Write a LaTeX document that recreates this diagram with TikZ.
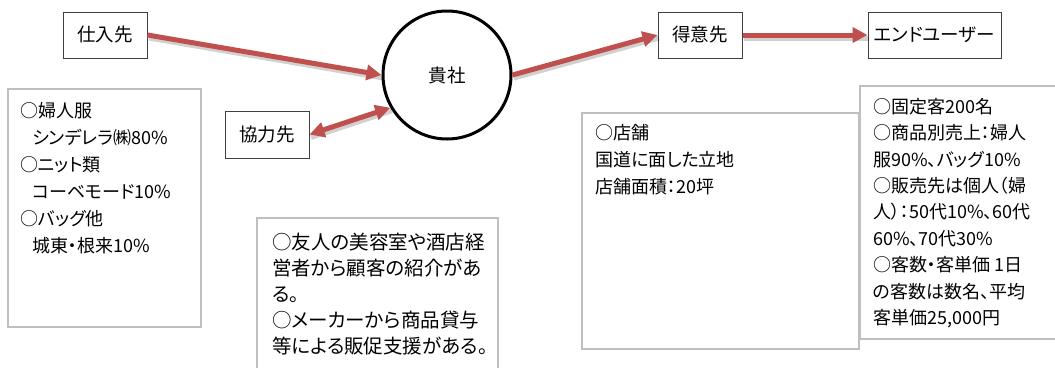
\documentclass[tikz,border=0pt]{standalone}
\usepackage{fontspec}
\newfontfamily\jp[RawFeature=+palt]{Noto Sans CJK JP}
\usetikzlibrary{arrows.meta}
\definecolor{arrowred}{HTML}{C0504D}
\definecolor{boxgray}{HTML}{BFBFBF}
\definecolor{labelline}{HTML}{404040}
\begin{document}
\begin{tikzpicture}[x=1pt,y=-1pt,
  labelbox/.style={draw=labelline, line width=1pt, fill=white, inner sep=0pt,
    font=\jp\fontsize{18.5pt}{22pt}\selectfont},
  infobox/.style={draw=boxgray, line width=1.2pt, fill=white, inner sep=0pt},
  infotext/.style={anchor=north west, inner sep=0pt, align=left,
    font=\jp\fontsize{18pt}{27pt}\selectfont},
  flow/.style={draw=arrowred, line width=5pt, -{Triangle[length=15pt,width=15pt]}},
  flowboth/.style={draw=arrowred, line width=5pt, {Triangle[length=15pt,width=15pt]}-{Triangle[length=15pt,width=15pt]}},
  shade/.style={draw=black, opacity=0.18, line width=5pt}
]
\useasboundingbox (0,0) rectangle (1055,367);
\clip (0,0) rectangle (1055,367);

% info boxes
\node[infobox, minimum width=193pt, minimum height=238pt] (leftbox) at (104.5,208) {};
\node[infobox, minimum width=241pt, minimum height=182pt] (midbox) at (377.5,309) {};
\node[infobox, minimum width=277pt, minimum height=236pt] (storebox) at (720.5,231) {};
\node[infobox, minimum width=240pt, minimum height=253pt] (userbox) at (980,212.5) {};

\node[infotext] (lefttext) at (20,102) {○婦人服\\\hspace{12pt}シンデレラ㈱80\%\\○ニット類\\\hspace{12pt}コーベモード10\%\\○バッグ他\\\hspace{12pt}城東・根来10\%};
\node[infotext, font=\jp\fontsize{19.5pt}{26pt}\selectfont] (midtext) at (272,233) {○友人の美容室や酒店経\\営者から顧客の紹介があ\\る。\\○メーカーから商品貸与\\等による販促支援がある。};
\node[infotext] (storetext) at (595,124) {○店舗\\国道に面した立地\\店舗面積：20坪};
\node[infotext, font=\jp\fontsize{18pt}{26.4pt}\selectfont] (usertext) at (873,98) {○固定客200名\\○商品別売上：婦人\\服90\%、バッグ10\%\\○販売先は個人（婦\\人）：50代10\%、60代\\60\%、70代30\%\\○客数・客単価 1日\\の客数は数名、平均\\客単価25,000円};

% label boxes
\node[labelbox, minimum width=84pt, minimum height=46pt] (shiire) at (105,35) {仕入先};
\node[labelbox, minimum width=84pt, minimum height=47pt] (kyoryoku) at (267,134.5) {協力先};
\node[labelbox, minimum width=84pt, minimum height=46pt] (tokui) at (700,35) {得意先};
\node[labelbox, minimum width=133pt, minimum height=46pt] (enduser) at (934.5,35) {エンドユーザー};
\node[circle, draw=black, line width=3pt, fill=white, minimum size=128pt, inner sep=0pt,
  font=\jp\fontsize{18.5pt}{22pt}\selectfont] (kisha) at (447,75) {貴社};

% shadows
\begin{scope}[transform canvas={shift={(1.5pt,-3pt)}}]
  \draw[shade] (shiire.east) -- (kisha.west);
  \draw[shade] (kyoryoku.east) -- (kisha.210);
  \draw[shade] (kisha.east) -- (tokui.west);
  \draw[shade] (tokui.east) -- (enduser.west);
\end{scope}

% connectors
\draw[flow] (shiire.east) -- (kisha.west);
\draw[flowboth] (kyoryoku.east) -- (kisha.210);
\draw[flow] (kisha.east) -- (tokui.west);
\draw[flow] (tokui.east) -- (enduser.west);
\end{tikzpicture}
\end{document}
